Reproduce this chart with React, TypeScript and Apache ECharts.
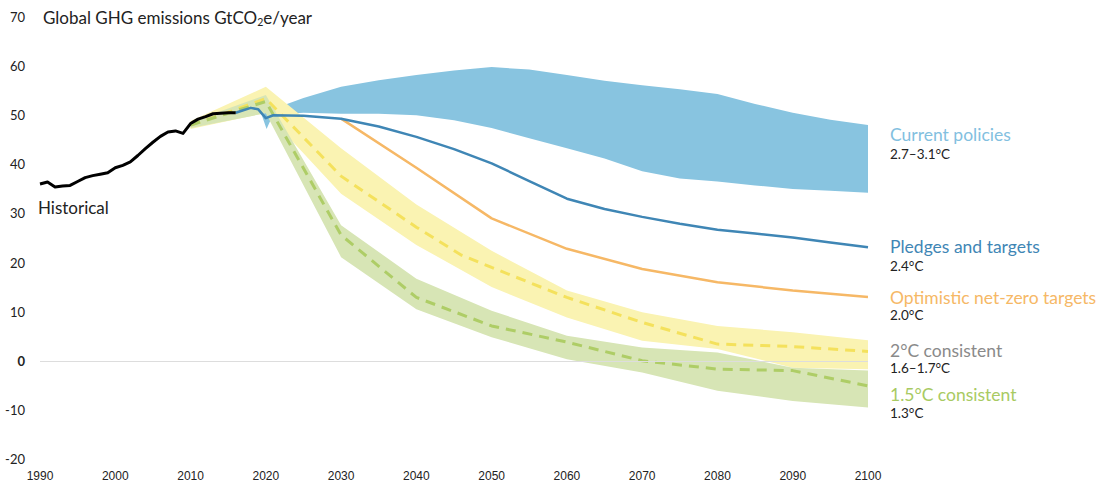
import React, { useEffect, useRef } from "react";
import * as echarts from "echarts";

// ---------- data ----------
const xTicks = [1990, 2000, 2010, 2020, 2030, 2040, 2050, 2060, 2070, 2080, 2090, 2100];
const yTicks = [-20, -10, 0, 10, 20, 30, 40, 50, 60, 70];

const histYears = [1990, 1991, 1992, 1993, 1994, 1995, 1996, 1997, 1998, 1999, 2000, 2001, 2002, 2003, 2004, 2005, 2006, 2007, 2008, 2009, 2010, 2011, 2012, 2013, 2014, 2015, 2016];
const histValues = [36.0, 36.4, 35.4, 35.6, 35.7, 36.5, 37.3, 37.7, 38.0, 38.3, 39.3, 39.8, 40.5, 41.8, 43.2, 44.5, 45.7, 46.6, 46.8, 46.3, 48.3, 49.2, 49.7, 50.3, 50.4, 50.5, 50.5];

// Current policies band
const cpUpperYears = [2019.4, 2021, 2023, 2025, 2030, 2035, 2040, 2045, 2050, 2055, 2060, 2065, 2070, 2075, 2080, 2085, 2090, 2095, 2100];
const cpUpper = [50.3, 51.3, 52.4, 53.5, 55.8, 57.1, 58.2, 59.1, 59.8, 59.3, 58.2, 57.0, 56.1, 55.3, 54.3, 52.3, 50.5, 49.1, 48.0];
const cpLowerYears = [2019.4, 2020.1, 2020.8, 2023, 2025, 2030, 2035, 2040, 2045, 2050, 2055, 2060, 2065, 2070, 2075, 2080, 2085, 2090, 2095, 2100];
const cpLower = [50.3, 47.2, 49.6, 50.3, 50.5, 50.3, 50.3, 50.0, 49.0, 47.4, 45.3, 43.3, 41.2, 38.6, 37.1, 36.5, 35.7, 35.0, 34.6, 34.2];

// Pledges and targets
const plYears = [2016, 2017, 2018, 2019, 2020, 2021, 2025, 2030, 2035, 2040, 2045, 2050, 2055, 2060, 2065, 2070, 2075, 2080, 2085, 2090, 2095, 2100];
const plValues = [50.5, 51.0, 51.5, 51.2, 49.4, 50.0, 49.9, 49.3, 47.7, 45.6, 43.1, 40.2, 36.6, 33.0, 30.9, 29.3, 27.9, 26.7, 25.9, 25.1, 24.1, 23.1];

// Optimistic net-zero targets
const nzYears = [2030, 2040, 2050, 2060, 2070, 2080, 2090, 2100];
const nzValues = [49.3, 39.3, 29.0, 22.8, 18.7, 16.0, 14.3, 13.0];

// 2°C consistent
const twoYears = [2010, 2020, 2030, 2040, 2050, 2060, 2070, 2080, 2090, 2100];
const twoUpper = [48.8, 55.8, 43.3, 31.8, 22.4, 14.3, 9.9, 7.1, 5.8, 4.2];
const twoLower = [47.2, 50.5, 34.0, 23.6, 15.0, 8.8, 4.1, 2.4, -1.4, -1.7];
const twoMidYears = [2010, 2015, 2020, 2030, 2040, 2046, 2050, 2060, 2070, 2080, 2090, 2100];
const twoMid = [48.0, 50.6, 53.4, 37.6, 27.2, 21.5, 19.0, 12.9, 7.8, 3.4, 2.9, 1.9];

// 1.5°C consistent
const oneFiveYears = [2010, 2020, 2030, 2040, 2050, 2060, 2070, 2080, 2090, 2100];
const oneFiveUpper = [48.6, 54.1, 27.6, 16.7, 10.2, 5.1, 2.7, 1.7, -1.4, -2.0];
const oneFiveLower = [47.4, 50.4, 21.1, 10.5, 4.8, 0.3, -2.4, -6.1, -8.2, -9.5];
const oneFiveMidYears = [2010, 2015, 2020, 2030, 2040, 2050, 2060, 2070, 2080, 2090, 2100];
const oneFiveMid = [48.0, 50.4, 52.8, 25.6, 12.9, 7.1, 3.8, 0.0, -1.7, -2.0, -5.1];

const labels = [
  { name: "Current policies", temp: "2.7–3.1°C", color: "#82C0DF" },
  { name: "Pledges and targets", temp: "2.4°C", color: "#3F86B5" },
  { name: "Optimistic net-zero targets", temp: "2.0°C", color: "#F6B866" },
  { name: "2°C consistent", temp: "1.6–1.7°C", color: "#8A8A8A" },
  { name: "1.5°C consistent", temp: "1.3°C", color: "#A8CA62" },
];

// ---------- helpers ----------
const pairs = (xs: number[], ys: number[]) => xs.map((x, i) => [x, ys[i]]);

function band(name: string, upYears: number[], up: number[], loYears: number[], lo: number[], color: string, z: number) {
  const upP = pairs(upYears, up);
  const loP = pairs(loYears, lo).reverse();
  return {
    type: "custom",
    name,
    z,
    silent: true,
    data: [[upYears[0], up[0]]],
    renderItem: (_params: any, api: any) => {
      const pts = upP.map((p) => api.coord(p)).concat(loP.map((p) => api.coord(p)));
      return { type: "polygon", shape: { points: pts }, style: { fill: color } };
    },
  };
}

const FONT = "Lato, 'Open Sans', sans-serif";

export default function App() {
  const ref = useRef<HTMLDivElement>(null);
  useEffect(() => {
    if (!ref.current) return;
    const chart = echarts.init(ref.current, undefined, { renderer: "svg" });

    const labelY = [
      [134, 154],
      [246, 266],
      [297, 315],
      [350, 368],
      [394, 413],
    ];
    const graphics: any[] = [
      {
        type: "text",
        x: 43,
        y: 17,
        style: {
          text: "{a|Global GHG emissions GtCO}{s|2}{a|e/year}",
          verticalAlign: "middle",
          rich: {
            a: { fontSize: 17, fontFamily: FONT, fill: "#222", lineHeight: 21 },
            s: { fontSize: 10.5, fontFamily: FONT, fill: "#222", lineHeight: 10, verticalAlign: "bottom" },
          },
        },
      },
      {
        type: "text",
        x: 38,
        y: 207,
        style: { text: "Historical", fontSize: 17, fontFamily: FONT, fill: "#222", verticalAlign: "middle" },
      },
    ];
    labels.forEach((l, i) => {
      graphics.push({
        type: "text",
        x: 890,
        y: labelY[i][0],
        style: { text: l.name, fontSize: 17.5, fontFamily: FONT, fill: l.color, verticalAlign: "middle" },
      });
      graphics.push({
        type: "text",
        x: 890,
        y: labelY[i][1],
        style: { text: l.temp, fontSize: 13.5, fontFamily: FONT, fill: "#222", verticalAlign: "middle" },
      });
    });

    const option: any = {
      animation: false,
      backgroundColor: "#fff",
      grid: { left: 40, right: 241, top: 17, bottom: 26 },
      xAxis: {
        type: "value",
        min: xTicks[0],
        max: xTicks[xTicks.length - 1],
        interval: xTicks[1] - xTicks[0],
        axisLine: { show: false },
        axisTick: { show: false },
        splitLine: { show: false },
        axisLabel: { margin: 11, fontSize: 12, color: "#222", fontFamily: "'Liberation Sans', Arial, sans-serif", formatter: (v: number) => String(v) },
      },
      yAxis: {
        type: "value",
        min: yTicks[0],
        max: yTicks[yTicks.length - 1],
        interval: yTicks[1] - yTicks[0],
        axisLine: { show: false },
        axisTick: { show: false },
        splitLine: { show: false },
        axisLabel: {
          margin: 15,
          fontSize: 13,
          color: "#222",
          fontFamily: FONT,
          formatter: (v: number) => (v === 0 ? "{b|0}" : String(v)),
          rich: { b: { fontSize: 13, fontWeight: "bold", color: "#222", fontFamily: FONT } },
        },
      },
      graphic: graphics,
      series: [
        band("Current policies", cpUpperYears, cpUpper, cpLowerYears, cpLower, "#88C4E0", 1),
        band("2°C consistent band", twoYears, twoUpper, twoYears, twoLower, "#FAF3B2", 2),
        band("1.5°C consistent band", oneFiveYears, oneFiveUpper, oneFiveYears, oneFiveLower, "#D7E5B5", 3),
        {
          type: "line",
          name: "zero",
          data: [],
          z: 1,
          markLine: {
            silent: true,
            symbol: "none",
            label: { show: false },
            lineStyle: { color: "#DDDDDD", width: 1, type: "solid" },
            data: [{ yAxis: 0 }],
          },
        },
        {
          type: "line",
          name: "2°C consistent",
          data: pairs(twoMidYears, twoMid),
          showSymbol: false,
          symbol: "none",
          z: 4,
          lineStyle: { color: "#F4E15C", width: 3, type: [10, 7] },
        },
        {
          type: "line",
          name: "1.5°C consistent",
          data: pairs(oneFiveMidYears, oneFiveMid),
          showSymbol: false,
          symbol: "none",
          z: 4,
          lineStyle: { color: "#AECD66", width: 3, type: [10, 7] },
        },
        {
          type: "line",
          name: "Optimistic net-zero targets",
          data: pairs(nzYears, nzValues),
          showSymbol: false,
          symbol: "none",
          z: 5,
          lineStyle: { color: "#F6B866", width: 2.5 },
        },
        {
          type: "line",
          name: "Pledges and targets",
          data: pairs(plYears, plValues),
          showSymbol: false,
          symbol: "none",
          z: 6,
          lineStyle: { color: "#3F86B5", width: 2.5, join: "round" },
        },
        {
          type: "line",
          name: "Historical",
          data: pairs(histYears, histValues),
          showSymbol: false,
          symbol: "none",
          z: 7,
          lineStyle: { color: "#000", width: 3, join: "round" },
        },
      ],
    };
    chart.setOption(option);
    return () => chart.dispose();
  }, []);

  return <div ref={ref} style={{ position: "absolute", left: 0, top: 0, width: 1109, height: 485, background: "#fff" }} />;
}
